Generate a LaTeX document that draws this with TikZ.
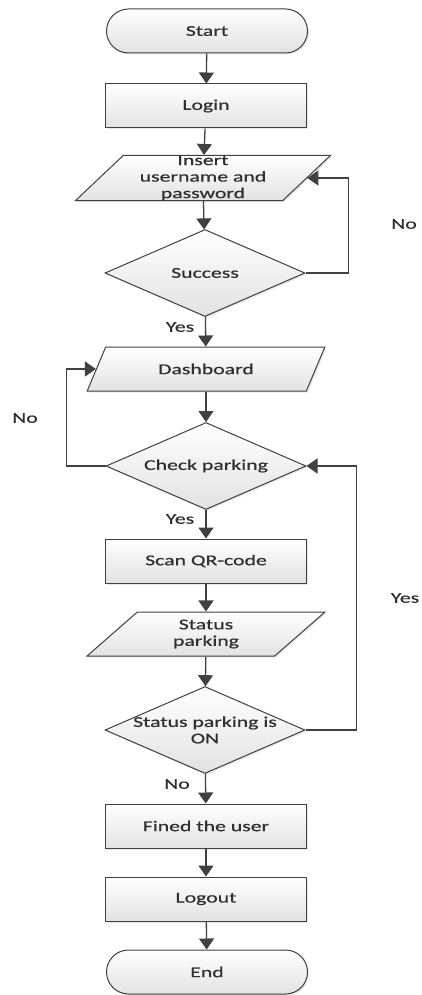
\documentclass[tikz,border=0pt]{standalone}
\usepackage{fontspec}
\setmainfont{Carlito}[FakeStretch=1.45,FakeBold=0.6]
\usetikzlibrary{shapes.geometric,shapes.misc,arrows.meta,shadows}

\definecolor{edge}{HTML}{404040}
\definecolor{ink}{HTML}{303030}
\definecolor{fillbot}{HTML}{E2E2E2}

\tikzset{
  txt/.style={text=ink, font=\fontsize{15}{16.5}\selectfont, align=center},
  base/.style={draw=edge, line width=1pt, top color=white, bottom color=fillbot,
    txt, inner sep=0pt,
    drop shadow={opacity=0.18, shadow xshift=1.5pt, shadow yshift=-1.5pt}},
  terminal/.style={base, rounded rectangle, minimum width=201pt, minimum height=44pt},
  process/.style={base, rectangle, minimum width=201pt, minimum height=44pt},
  io/.style={base, trapezium, trapezium left angle=50, trapezium right angle=130,
    trapezium stretches=true, minimum width=238pt, minimum height=44pt},
  % the diamond keeps a fixed size; its caption is set as a centred label
  decision/.style={base, diamond, minimum width=200pt, minimum height=87pt,
    label={[txt, inner sep=0pt]center:#1}},
  lbl/.style={txt, inner sep=0pt},
  arr/.style={draw=edge, line width=1.3pt, -{Triangle[width=15pt,length=11pt]}}
}

\begin{document}
\begin{tikzpicture}[x=1pt,y=-1pt]
  \useasboundingbox (0,0) rectangle (422,995);

  % main column of steps
  \node[terminal] (start) at (207,31)  {Start};
  \node[process]  (login) at (206,106) {Login};
  \node[io, minimum width=255pt] (ins) at (203,178) {Insert\\username and\\password};
  \node[decision={Success}] (succ) at (205,273) {};
  \node[io]       (dash)  at (206,369) {Dashboard};
  \node[decision={Check parking}] (chk) at (206,466) {};
  \node[process]  (scan)  at (206,561) {Scan QR-code};
  \node[io]       (stat)  at (206,634) {Status\\parking};
  \node[decision={Status parking is\\ON}] (on) at (205,730) {};
  \node[process]  (fine)  at (206,826) {Fined the user};
  \node[process]  (logout) at (206,899) {Logout};
  \node[terminal] (end)   at (207,972) {End};

  % straight flow
  \draw[arr] (start) -- (login);
  \draw[arr] (login) -- (ins);
  \draw[arr] (ins) -- (succ);
  \draw[arr] (succ) -- (dash);
  \draw[arr] (dash) -- (chk);
  \draw[arr] (chk) -- (scan);
  \draw[arr] (scan) -- (stat);
  \draw[arr] (stat) -- (on);
  \draw[arr] (on) -- (fine);
  \draw[arr] (fine) -- (logout);
  \draw[arr] (logout) -- (end);

  % loops back
  \draw[arr] (succ.east) -- ++(43,0) |- (ins.east);
  \draw[arr] (chk.west) -- ++(-39,0) |- (dash.west);
  \draw[arr] (on.east) -- ++(51,0) |- (chk.east);

  % branch labels
  \node[lbl] (l1) at (404,224) {No};
  \node[lbl] (l2) at (180,327) {Yes};
  \node[lbl] (l3) at (25,418)  {No};
  \node[lbl] (l4) at (180,519) {Yes};
  \node[lbl] (l5) at (405,598) {Yes};
  \node[lbl] (l6) at (177,784) {No};
\end{tikzpicture}
\end{document}
